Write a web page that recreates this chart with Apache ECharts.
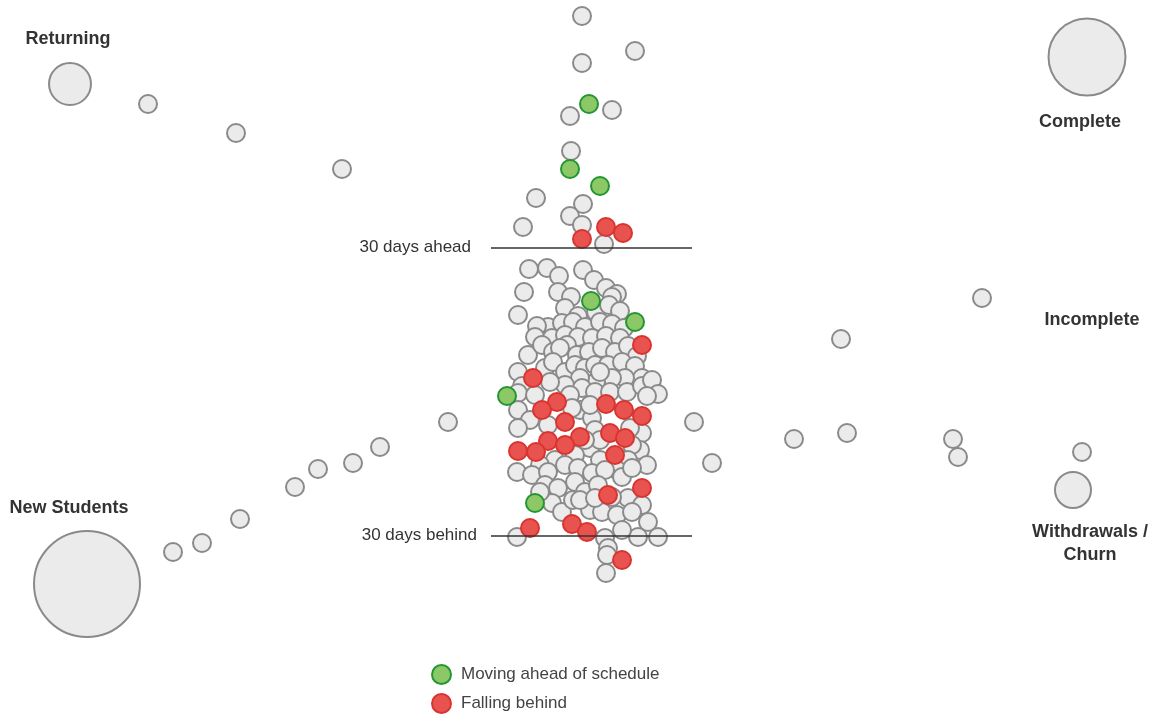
<!DOCTYPE html>
<html>

<head>
  <meta charset="UTF-8">
  <title>Student progress flow</title>
  <style>
    html, body {
      margin: 0;
      padding: 0;
      background: #fff;
    }

    #chart {
      width: 1157px;
      height: 715px;
    }
  </style>
  <script src="https://cdn.jsdelivr.net/npm/echarts@6/dist/echarts.min.js"></script>
</head>

<body>
  <div id="chart"></div>
  <script type="text/javascript">
    // stages (big circles) -- count drives bubble area
    var stageNames = ['Returning', 'Complete', 'Incomplete', 'New Students', 'Withdrawals /\nChurn'];
    var stageX = [70, 1087, 1092, 87, 1073];
    var stageY = [84, 57, 320, 584, 490];
    var stageCount = [110, 370, 0, 702, 81];

    // students moving between stages
    var flowStudents = [
      [148, 104], [236, 133], [342, 169],
      [448, 422], [380, 447], [353, 463], [318, 469], [295, 487], [240, 519], [202, 543], [173, 552],
      [694, 422], [712, 463], [794, 439], [847, 433], [841, 339], [982, 298], [953, 439], [958, 457], [1082, 452]
    ];

    // students in progress, above the "30 days ahead" line
    var aheadStudents = [
      [582, 16], [635, 51], [582, 63], [612, 110], [570, 116], [571, 151], [536, 198],
      [583, 204], [570, 216], [523, 227], [582, 225], [604, 244]
    ];

    // students in progress, the main group
    var onTrackStudents = [
      [529, 269], [547, 268], [559, 276], [583, 270], [594, 280], [606, 288], [617, 294], [524, 292], [558, 292], [571, 297], [612, 297],
      [518, 315], [565, 308], [578, 316], [596, 312], [609, 305], [620, 311], [548, 327], [537, 326], [562, 323], [573, 322], [585, 327], [600, 322], [612, 324], [624, 328],
      [535, 337], [552, 338], [565, 335], [578, 337], [592, 338], [606, 336], [620, 338], [528, 355], [542, 345], [553, 352], [567, 345], [577, 355], [589, 352], [602, 348], [615, 352], [628, 346], [637, 356], [560, 348],
      [518, 372], [545, 368], [553, 362], [565, 372], [575, 365], [585, 368], [595, 365], [608, 365], [622, 362], [635, 366], [642, 378], [625, 378], [612, 378], [596, 382], [580, 378], [565, 385], [550, 382], [522, 386], [518, 393], [535, 395], [582, 388], [595, 392], [610, 392], [627, 392], [642, 386], [652, 380], [658, 394], [647, 396], [570, 395], [600, 372],
      [518, 410], [530, 420], [518, 428], [548, 425], [580, 410], [592, 418], [595, 430], [590, 448], [600, 460], [575, 455], [555, 460], [540, 465], [642, 433], [640, 450], [647, 465], [630, 428], [632, 445], [600, 440], [585, 440], [628, 460], [617, 470], [572, 408], [590, 405],
      [517, 472], [532, 475], [548, 472], [565, 465], [578, 468], [592, 473], [605, 470], [622, 477], [632, 468], [545, 485], [558, 488], [575, 482], [585, 492], [598, 485], [628, 498], [642, 505], [552, 503], [562, 512], [573, 500], [590, 510], [602, 512], [617, 515], [632, 512], [648, 522], [658, 537], [638, 537], [622, 530], [605, 538], [517, 537], [580, 500], [595, 498], [612, 497], [540, 492],
      [608, 548], [607, 555], [606, 573]
    ];

    var behindStudents = [
      [582, 239], [606, 227], [623, 233], [642, 345], [533, 378], [557, 402], [542, 410], [606, 404], [624, 410], [642, 416],
      [565, 422], [580, 437], [610, 433], [625, 438], [548, 441], [565, 445], [536, 452], [518, 451], [615, 455], [642, 488],
      [608, 495], [530, 528], [572, 524], [587, 532], [622, 560]
    ];

    var movingAheadStudents = [
      [589, 104], [570, 169], [600, 186], [591, 301], [635, 322], [507, 396], [535, 503]
    ];

    // schedule thresholds
    var thresholdLabels = ['30 days ahead', '30 days behind'];
    var thresholdY = [247.5, 535.5];
    var thresholdStart = 491, thresholdEnd = 692;

    var grayStyle = { color: '#ebebeb', borderColor: '#8a8a8a', borderWidth: 2, opacity: 1 };
    var dotSize = 18;

    var labelPos = ['top', 'bottom', 'inside', 'top', 'bottom'];
    var labelDist = [11, 14, 0, 10, 12];
    var labelShift = [[-2, 0], [-7, 0], [0, 0], [-18, 0], [17, 0]];

    var stageData = stageNames.map(function (name, i) {
      return {
        name: name,
        value: [stageX[i], stageY[i], stageCount[i]],
        label: { position: labelPos[i], distance: labelDist[i], offset: labelShift[i] }
      };
    });

    var myChart = echarts.init(document.getElementById('chart'));

    var option = {
      animation: false,
      grid: { left: 0, right: 0, top: 0, bottom: 0 },
      xAxis: { type: 'value', min: 0, max: 1157, show: false },
      yAxis: { type: 'value', min: 0, max: 715, inverse: true, show: false },
      legend: {
        data: ['Moving ahead of schedule', 'Falling behind'],
        orient: 'vertical',
        left: 431,
        bottom: 1,
        padding: 0,
        itemWidth: 19,
        itemHeight: 19,
        itemGap: 8,
        icon: 'circle',
        selectedMode: false,
        textStyle: {
          fontFamily: 'Liberation Sans, Arial, sans-serif',
          fontSize: 17,
          color: '#444',
          padding: [0, 0, 0, 5]
        }
      },
      series: [
        {
          type: 'scatter',
          name: 'flow',
          symbolSize: dotSize,
          itemStyle: grayStyle,
          data: flowStudents,
          silent: true
        },
        {
          type: 'scatter',
          name: 'stages',
          data: stageData,
          symbolSize: function (val) {
            return Math.sqrt(val[2]) * 4;
          },
          itemStyle: grayStyle,
          label: {
            show: true,
            formatter: '{b}',
            fontFamily: 'Liberation Sans, Arial, sans-serif',
            fontWeight: 'bold',
            fontSize: 18,
            lineHeight: 23,
            color: '#333',
            align: 'center'
          },
          silent: true
        },
        {
          type: 'scatter',
          name: 'in progress',
          symbolSize: dotSize,
          itemStyle: grayStyle,
          data: aheadStudents.concat(onTrackStudents),
          silent: true,
          markLine: {
            silent: true,
            symbol: 'none',
            lineStyle: { color: '#333', width: 1.5, type: 'solid', opacity: 1 },
            label: {
              position: 'start',
              fontFamily: 'Liberation Sans, Arial, sans-serif',
              fontSize: 17,
              color: '#333'
            },
            data: thresholdLabels.map(function (lbl, i) {
              return [
                { coord: [thresholdStart, thresholdY[i]], name: lbl, label: { formatter: lbl, distance: i === 0 ? 20 : 14 } },
                { coord: [thresholdEnd, thresholdY[i]] }
              ];
            })
          }
        },
        {
          type: 'scatter',
          name: 'Falling behind',
          symbolSize: dotSize,
          itemStyle: { color: '#e9534f', borderColor: '#d9342f', borderWidth: 2, opacity: 1 },
          data: behindStudents,
          silent: true
        },
        {
          type: 'scatter',
          name: 'Moving ahead of schedule',
          symbolSize: dotSize,
          itemStyle: { color: '#8dc866', borderColor: '#239634', borderWidth: 2, opacity: 1 },
          data: movingAheadStudents,
          silent: true
        }
      ]
    };
    myChart.setOption(option);
  </script>
</body>

</html>
